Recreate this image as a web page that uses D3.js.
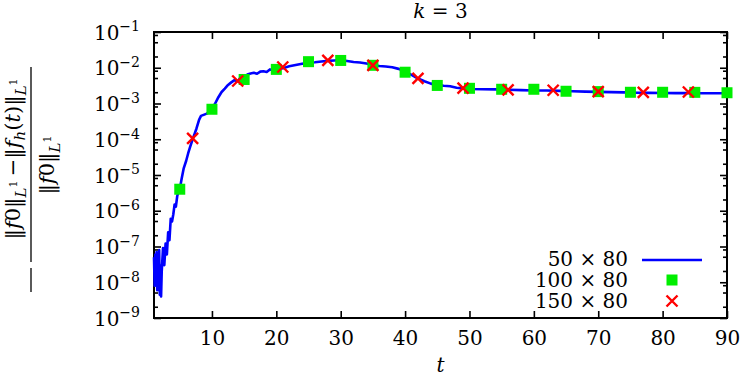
<!DOCTYPE html>
<html>
<head>
<meta charset="utf-8">
<script src="https://cdn.jsdelivr.net/npm/d3@7"></script>
<style>
  body { margin: 0; background: #fff; }
  svg { display: block; }
</style>
</head>
<body>
<div id="chart"></div>
<script>
// 50 x 80 run (solid blue line)
var t50 = [1.0, 1.1, 1.2, 1.3, 1.4, 1.5, 1.6, 1.7, 1.8, 1.9, 2.0, 2.1, 2.2, 2.4, 2.6, 2.8, 3.0, 3.2, 3.4, 3.6,
  3.8, 4.0, 4.2, 4.4, 4.6, 4.8, 5.0, 5.3, 5.6, 6.0, 6.3, 6.6, 7.0, 7.3, 7.6, 8.0, 8.3, 8.7, 9.2, 9.6,
  10, 10.5, 11, 11.5, 12, 12.5, 13, 13.5, 14, 14.5, 15, 15.5, 16, 16.5, 17, 17.5, 18, 18.5, 19, 19.5,
  20, 20.5, 21, 22, 23, 24, 25, 26, 27, 28, 29, 30, 31, 32, 33, 34, 35, 36, 37, 38,
  39, 40, 41, 42, 43, 44, 45, 46, 47, 48, 49, 50, 52, 54, 56, 58, 60, 62, 64, 66,
  68, 70, 72, 74, 76, 78, 80, 82, 84, 86, 88, 90];
var v50 = [5e-8, 8e-9, 6e-8, 1.5e-8, 7e-8, 6e-9, 4e-8, 1e-8, 8e-8, 4.5e-9, 3e-8, 4e-9, 2e-8, 9e-8, 3e-8, 1.2e-7, 6e-8, 2.5e-7, 1.5e-7, 6e-7,
  5e-7, 8e-7, 1.5e-6, 1.3e-6, 2.5e-6, 3.5e-6, 4e-6, 8e-6, 1.5e-5, 2.5e-5, 4e-5, 6e-5, 1.0e-4, 1.4e-4, 2e-4, 3.5e-4, 4.5e-4, 4.8e-4, 5.2e-4, 6e-4,
  7e-4, 1.0e-3, 1.5e-3, 2.1e-3, 2.6e-3, 3.3e-3, 3.9e-3, 4.5e-3, 4.2e-3, 5.5e-3, 5.0e-3, 6.5e-3, 6.9e-3, 7.2e-3, 6.8e-3, 7.8e-3, 8.0e-3, 7.6e-3, 9e-3, 8.5e-3,
  9.2e-3, 1.05e-2, 9.6e-3, 1.1e-2, 1.2e-2, 1.3e-2, 1.38e-2, 1.42e-2, 1.5e-2, 1.56e-2, 1.6e-2, 1.64e-2, 1.55e-2, 1.45e-2, 1.4e-2, 1.32e-2, 1.2e-2, 1.12e-2, 1.08e-2, 1.03e-2,
  9.3e-3, 7.8e-3, 6.3e-3, 5.0e-3, 4.2e-3, 3.6e-3, 3.3e-3, 3.15e-3, 3.05e-3, 2.75e-3, 2.65e-3, 2.55e-3, 2.5e-3, 2.48e-3, 2.42e-3, 2.36e-3, 2.32e-3, 2.3e-3, 2.26e-3, 2.2e-3,
  2.15e-3, 2.12e-3, 2.08e-3, 2.05e-3, 2.0e-3, 1.98e-3, 1.97e-3, 1.95e-3, 1.95e-3, 1.94e-3, 1.93e-3, 1.93e-3];

// 100 x 80 run (green squares)
var t100 = [5, 10, 15, 20, 25, 30, 35, 40, 45, 50, 55, 60, 65, 70, 75, 80, 85, 90];
var v100 = [4e-6, 6.9e-4, 4.7e-3, 9.0e-3, 1.48e-2, 1.6e-2, 1.17e-2, 7.5e-3, 3.2e-3, 2.66e-3, 2.5e-3, 2.5e-3, 2.2e-3, 2.15e-3, 2.06e-3, 2.06e-3, 2.05e-3, 2.0e-3];

// 150 x 80 run (red crosses)
var t150 = [7, 14, 21, 28, 35, 42, 49, 56, 63, 70, 77, 84];
var v150 = [1.06e-4, 4.26e-3, 1.05e-2, 1.6e-2, 1.17e-2, 5.07e-3, 2.7e-3, 2.4e-3, 2.35e-3, 2.15e-3, 2.06e-3, 2.1e-3];

var seriesNames = ["50 \u00d7 80", "100 \u00d7 80", "150 \u00d7 80"];
var xTicks = [10, 20, 30, 40, 50, 60, 70, 80, 90];
var yExponents = [-9, -8, -7, -6, -5, -4, -3, -2, -1];

var W = 742, H = 378;
var pL = 154, pR = 727, pT = 32, pB = 318;
var FS = 20;
var SERIF = "'DejaVu Serif', 'Liberation Serif', serif";

var svg = d3.select("#chart").append("svg")
  .attr("width", W).attr("height", H)
  .style("font-family", SERIF);

var x = d3.scaleLinear().domain([1, 90]).range([pL, pR]);
var y = d3.scaleLog().domain([1e-9, 1e-1]).range([pB, pT]);

var yMajor = yExponents.map(function(e) { return Math.pow(10, e); });
var yMinor = [];
yExponents.slice(0, -1).forEach(function(e) {
  [2, 5, 8].forEach(function(m) { yMinor.push(m * Math.pow(10, e)); });
});

function styleAxis(g) {
  g.select(".domain").remove();
  g.selectAll(".tick line").attr("stroke", "#000").attr("stroke-width", 1.6);
  g.attr("font-family", null).attr("font-size", null);
  g.selectAll("text").attr("fill", "#000");
}

// bottom + top
svg.append("g").attr("transform", "translate(0," + pB + ")")
  .call(d3.axisBottom(x).tickValues(xTicks).tickSize(-7).tickPadding(13))
  .call(styleAxis)
  .selectAll("text").attr("font-size", FS);
svg.append("g").attr("transform", "translate(0," + pT + ")")
  .call(d3.axisTop(x).tickValues(xTicks).tickSize(-7).tickFormat(""))
  .call(styleAxis);

// left + right
var yl = svg.append("g").attr("transform", "translate(" + pL + ",0)")
  .call(d3.axisLeft(y).tickValues(yMajor).tickSize(-7).tickPadding(14).tickFormat(function() { return ""; }))
  .call(styleAxis);
yl.selectAll(".tick text").each(function(d) {
  var el = d3.select(this).attr("font-size", FS).attr("dy", "0.36em");
  el.append("tspan").text("10");
  el.append("tspan").attr("font-size", 14).attr("dy", "-0.6em").text("\u2212" + Math.abs(Math.round(Math.log10(d))));
});
svg.append("g").attr("transform", "translate(" + pR + ",0)")
  .call(d3.axisRight(y).tickValues(yMajor).tickSize(-7).tickFormat(""))
  .call(styleAxis);
[pL, pR].forEach(function(px) {
  var dir = px === pL ? 1 : -1;
  svg.append("g").selectAll("line").data(yMinor).enter().append("line")
    .attr("x1", px).attr("x2", px + dir * 4)
    .attr("y1", function(d) { return y(d); }).attr("y2", function(d) { return y(d); })
    .attr("stroke", "#000").attr("stroke-width", 1.6);
});

// frame
svg.append("rect")
  .attr("x", pL).attr("y", pT).attr("width", pR - pL).attr("height", pB - pT)
  .attr("fill", "none").attr("stroke", "#000").attr("stroke-width", 2);

// curve
var line = d3.line()
  .x(function(d, i) { return x(t50[i]); })
  .y(function(d) { return y(d); });
svg.append("path").datum(v50)
  .attr("d", line)
  .attr("fill", "none").attr("stroke", "#0000ff").attr("stroke-width", 2.6)
  .attr("stroke-linejoin", "round");

// squares
var sq = 11;
svg.append("g").selectAll("rect").data(v100).enter().append("rect")
  .attr("x", function(d, i) { return x(t100[i]) - sq / 2; })
  .attr("y", function(d) { return y(d) - sq / 2; })
  .attr("width", sq).attr("height", sq)
  .attr("fill", "#00ee00");

// crosses
function cross(g, cx, cy) {
  var s = 5.5;
  g.append("path")
    .attr("d", "M" + (cx - s) + "," + (cy - s) + "L" + (cx + s) + "," + (cy + s) +
               "M" + (cx - s) + "," + (cy + s) + "L" + (cx + s) + "," + (cy - s))
    .attr("stroke", "#ff0000").attr("stroke-width", 2.4).attr("fill", "none");
}
var cg = svg.append("g");
v150.forEach(function(d, i) { cross(cg, x(t150[i]), y(d)); });

// legend
var lg = svg.append("g");
var rows = [266, 287, 308];
seriesNames.forEach(function(name, i) {
  lg.append("text").attr("x", 628).attr("y", rows[i]).attr("text-anchor", "end")
    .attr("font-size", FS).text(name);
});
lg.append("line").attr("x1", 642).attr("x2", 702).attr("y1", 260).attr("y2", 260)
  .attr("stroke", "#0000ff").attr("stroke-width", 2.6);
lg.append("rect").attr("x", 672 - sq / 2).attr("y", 280 - sq / 2).attr("width", sq).attr("height", sq)
  .attr("fill", "#00ee00");
cross(lg, 672, 301);

// title
var title = svg.append("text").attr("x", (pL + pR) / 2).attr("y", 18)
  .attr("text-anchor", "middle").attr("font-size", FS);
title.append("tspan").attr("font-style", "italic").text("k");
title.append("tspan").text(" = 3");

// x label
svg.append("text").attr("x", (pL + pR) / 2).attr("y", 372)
  .attr("text-anchor", "middle").attr("font-size", FS).attr("font-style", "italic").text("t");

// y label (rotated fraction)
var yg = svg.append("g").attr("transform", "rotate(-90)");
var LFS = 21;
function seg(txt, parts) {
  parts.forEach(function(p) {
    var ts = txt.append("tspan").text(p[0]);
    if (p[1]) ts.attr("font-style", "italic");
    if (p[2]) ts.attr("font-size", p[2]);
    if (p[3]) ts.attr("dy", p[3]);
  });
}
var norm = [["\u2016"], ["f", 1], ["0"], ["\u2016"], ["L", 1, 15, 6], ["1", 0, 11, -9], ["\u2009", 0, LFS, 3]];
var num = yg.append("text").attr("y", 20).attr("font-size", LFS);
seg(num, norm.concat([["\u2212"], ["\u2016"], ["f", 1], ["h", 1, 15, 5], ["(", 0, LFS, -5], ["t", 1], [")"], ["\u2016"],
  ["L", 1, 15, 6], ["1", 0, 11, -9]]));
var den = yg.append("text").attr("y", 54).attr("font-size", LFS);
seg(den, norm.slice(0, 6));
// centre each part on the fraction bar (screen y 159 and 165)
num.attr("x", -159 - num.node().getComputedTextLength() / 2);
den.attr("x", -165 - den.node().getComputedTextLength() / 2);
yg.append("line").attr("x1", -67).attr("x2", -262).attr("y1", 31).attr("y2", 31)
  .attr("stroke", "#000").attr("stroke-width", 1.3);
yg.append("line").attr("x1", -268).attr("x2", -292).attr("y1", 31).attr("y2", 31)
  .attr("stroke", "#000").attr("stroke-width", 1.3);
</script>
</body>
</html>
